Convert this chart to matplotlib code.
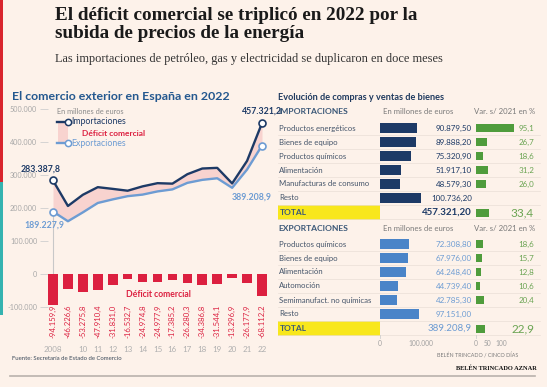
import matplotlib
matplotlib.use("Agg")
import matplotlib.pyplot as plt
from matplotlib.lines import Line2D
from matplotlib.patches import Rectangle

# ---- data ----
years = list(range(2008, 2023))
year_labels = ["2008", "", "10", "11", "12", "13", "14", "15", "16", "17", "18", "19", "20", "21", "22"]
imports = [283387.8, 206117, 240056, 263140, 257946, 252347, 265556, 275219,
           273778, 302423, 319648, 321633, 274472, 342787, 457321.2]
exports = [189227.9, 159890, 186780, 215230, 226115, 235814, 240581, 250241,
           256393, 276143, 285261, 290089, 261175, 316609, 389208.9]
deficit = [-94159.9, -46226.6, -53275.8, -47910.4, -31831.0, -16532.7, -24974.8, -24977.9,
           -17385.2, -26280.3, -34386.8, -31544.1, -13296.9, -26177.9, -68112.2]

imp_cats = ["Productos energéticos", "Bienes de equipo", "Productos químicos",
            "Alimentación", "Manufacturas de consumo", "Resto"]
imp_vals = [90879.50, 89888.20, 75320.90, 51917.10, 48579.30, 100736.20]
imp_var = [95.1, 26.7, 18.6, 31.2, 26.0, None]
imp_total, imp_total_var = 457321.20, 33.4

exp_cats = ["Productos químicos", "Bienes de equipo", "Alimentación",
            "Automoción", "Semimanufact. no químicas", "Resto"]
exp_vals = [72308.80, 67976.00, 64248.40, 44739.40, 42785.30, 97151.00]
exp_var = [18.6, 15.7, 12.8, 10.6, 20.4, None]
exp_total, exp_total_var = 389208.9, 22.9

BG = "#fdf2ea"
NAVY = "#1d3a66"
LBLUE = "#6d9cd3"
BBLUE = "#4a84c8"
RED = "#dc2040"
GREEN = "#4f9c3c"
GTXT = "#6aa452"
SANS = ["Lato", "DejaVu Sans"]

W, H = 547, 387
plt.rcParams["font.family"] = SANS


def fx(px):
    return px / W


def fy(py):
    return 1 - py / H


def ptxt(x, y, s, **kw):
    kw.setdefault("va", "center")
    fig.text(fx(x), fy(y), s, **kw)


def es_num(v, dec):
    s = f"{v:,.{dec}f}"
    return s.replace(",", "X").replace(".", ",").replace("X", ".")


fig = plt.figure(figsize=(W / 100, H / 100), dpi=100, facecolor=BG)

# left colour strips
fig.add_artist(Rectangle((0, fy(182)), fx(2.5), 182 / H, transform=fig.transFigure, color="#d9262e", lw=0))
fig.add_artist(Rectangle((0, fy(315)), fx(2.5), 133 / H, transform=fig.transFigure, color="#35b3b0", lw=0))

# headline
ptxt(55, 15, "El déficit comercial se triplicó en 2022 por la", family="Liberation Serif",
     weight="bold", fontsize=13.8, color="#1a1a1a")
ptxt(55, 33, "subida de precios de la energía", family="Liberation Serif",
     weight="bold", fontsize=13.8, color="#1a1a1a")
ptxt(55, 59, "Las importaciones de petróleo, gas y electricidad se duplicaron en doce meses",
     family="Liberation Serif", fontsize=8.9, color="#333333")

# ---- left chart ----
ptxt(12, 96, "El comercio exterior en España en 2022", weight="bold", fontsize=8.9, color="#24588f")

x0, x1 = 40, 275
y0, y1 = 100, 340
ax = fig.add_axes([fx(x0), fy(y1), (x1 - x0) / W, (y1 - y0) / H])
ax.set_facecolor("none")
pxy = 14.93
ax.set_xlim(2008 - (53 - x0) / pxy, 2022 + (x1 - 262) / pxy)
per = 33.0 / 100000
ax.set_ylim(-(y1 - 274) / per, (274 - y0) / per)
for s in ax.spines.values():
    s.set_visible(False)

ax.fill_between(years, exports, imports, color="#f8d3cf", lw=0, zorder=1)
ax.vlines(years[0], 0, exports[0], color="#c8c8c8", lw=0.8, zorder=0)
ax.plot(years, imports, color=NAVY, lw=1.7, zorder=3)
ax.plot(years, exports, color=LBLUE, lw=1.7, zorder=3)
for series, col in ((imports, NAVY), (exports, LBLUE)):
    ax.plot([years[0], years[-1]], [series[0], series[-1]], "o", ms=5, mfc="white",
            mec=col, mew=1.2, zorder=4)

ax.bar(years, deficit, width=0.65, color=RED, zorder=2)
for yr, d in zip(years, deficit):
    ax.text(yr, -194000, es_num(d, 1), rotation=90, ha="center", va="bottom",
            fontsize=5.6, color=RED)
ax.text(2015.05, -63000, "Déficit comercial", ha="center", va="center", fontsize=6.2,
        weight="bold", color=RED)

ax.text(2007.2, imports[0] + 35000, es_num(imports[0], 1), ha="center", va="center",
        fontsize=6.3, weight="bold", color=NAVY)
ax.text(2007.45, exports[0] - 40000, es_num(exports[0], 1), ha="center", va="center",
        fontsize=6.3, weight="bold", color=LBLUE)
ax.text(2022, imports[-1] + 35000, es_num(imports[-1], 1), ha="center", va="center",
        fontsize=6.3, weight="bold", color=NAVY)
ax.text(2021.33, 233000, es_num(exports[-1], 1), ha="center", va="center",
        fontsize=6.3, weight="bold", color=LBLUE)

yt = [-100000, 0, 100000, 200000, 300000, 400000, 500000]
ax.set_yticks(yt, [es_num(v, 0) for v in yt])
ax.tick_params(axis="y", direction="in", length=6, width=0.6, color="#cfcfcf",
               labelsize=5.2, labelcolor="#a8a8a8", pad=2)
ax.set_xticks(years, year_labels)
ax.tick_params(axis="x", length=0, labelsize=5.8, labelcolor="#b0b0b0", pad=4)

# legend of left chart
ptxt(57, 112, "En millones de euros", fontsize=5.3, color="#8a8a8a")
fig.add_artist(Rectangle((fx(58), fy(143)), fx(10), 20 / H, transform=fig.transFigure,
                         color="#f8d3cf", lw=0))
for yy, col, lab in ((122, NAVY, "Importaciones"), (143, LBLUE, "Exportaciones")):
    fig.add_artist(Line2D([fx(57), fx(68)], [fy(yy)] * 2, color=col, lw=1.7,
                          transform=fig.transFigure))
    fig.add_artist(Line2D([fx(68)], [fy(yy)], marker="o", ms=4.5, mfc="white", mec=col,
                          mew=1.1, transform=fig.transFigure))
    ptxt(71.5, yy, lab, fontsize=6.3, color=col)
ptxt(82, 133, "Déficit comercial", fontsize=6, weight="bold", color=RED)

ptxt(12, 358, "Fuente: Secretaría de Estado de Comercio", fontsize=4.3, color="#3c4a5a")

# ---- right table ----
LAB = "#44546a"
ptxt(278, 98, "Evolución de compras y ventas de bienes", fontsize=6.6, weight="bold", color="#1f3a5f")

bx0, bx1 = 380, 476
axb = fig.add_axes([fx(bx0), 0, (bx1 - bx0) / W, 1])
axb.set_facecolor("none")
axb.set_ylim(H, 0)
axb.set_xlim(0, (bx1 - bx0) / 40.5 * 100000)
for s in axb.spines.values():
    s.set_visible(False)
axb.set_xticks([])
axb.set_yticks([])

gx0, gx1 = 476, 540
axg = fig.add_axes([fx(gx0), 0, (gx1 - gx0) / W, 1])
axg.set_facecolor("none")
axg.set_ylim(H, 0)
axg.set_xlim(0, (gx1 - gx0) / 0.4)
for s in axg.spines.values():
    s.set_visible(False)
axg.set_xticks([])
axg.set_yticks([])


def block(top, title, cats, vals, var, total, total_var, bcol, ncol, tot_bold):
    ptxt(278, top, title, fontsize=6.1, weight="bold", color="#3b5878")
    ptxt(383, top, "En millones de euros", fontsize=5.6, color="#7a7a7a")
    ptxt(535, top, "Var. s/ 2021 en %", fontsize=5.6, color="#7a7a7a", ha="right")
    rows = [top + 16 + 14 * i for i in range(len(cats))]
    for r in rows + [rows[-1] + 14]:
        fig.add_artist(Line2D([fx(278), fx(540)], [fy(r + 7)] * 2, color="#eadfd6", lw=0.5,
                              transform=fig.transFigure))
    axb.barh(rows, vals, height=10.5, color=bcol)
    axg.barh([r for r, v in zip(rows, var) if v is not None],
             [v for v in var if v is not None], height=8, color=GREEN)
    for r, c, v, p in zip(rows, cats, vals, var):
        ptxt(279, r, c, fontsize=5.6, color=LAB)
        ptxt(472, r, es_num(v, 2), fontsize=5.8, color=ncol, ha="right")
        if p is not None:
            ptxt(534, r, es_num(p, 1), fontsize=5.8, color=GTXT, ha="right")
    rt = rows[-1] + 14.5
    fig.add_artist(Rectangle((fx(278), fy(rt + 7.5)), fx(102), 15 / H,
                             transform=fig.transFigure, color="#f8e71c", lw=0))
    ptxt(280, rt, "TOTAL", fontsize=6, weight="bold", color="#3b5878")
    ptxt(472, rt, es_num(total, 2 if tot_bold else 1), fontsize=7, color=ncol, ha="right",
         weight="bold" if tot_bold else "normal")
    axg.barh([rt], [total_var], height=8, color=GREEN)
    ptxt(534, rt, es_num(total_var, 1), fontsize=8.5, color=GTXT, ha="right")


block(112, "IMPORTACIONES", imp_cats, imp_vals, imp_var, imp_total, imp_total_var,
      NAVY, NAVY, True)
block(228, "EXPORTACIONES", exp_cats, exp_vals, exp_var, exp_total, exp_total_var,
      BBLUE, LBLUE, False)

# faint axes under the table
for xa in (380, 476):
    fig.add_artist(Line2D([fx(xa)] * 2, [fy(335), fy(338)], color="#cfcfcf", lw=0.6,
                          transform=fig.transFigure))
ptxt(380, 343, "0", fontsize=4.8, color="#a0a0a0", ha="center")
ptxt(421, 343, "100.000", fontsize=4.8, color="#a0a0a0", ha="center")
for xx, lab in ((476, "0"), (488, "50"), (501, "100")):
    ptxt(xx, 343, lab, fontsize=4.8, color="#a0a0a0", ha="center")

ptxt(518, 355, "BELÉN TRINCADO / CINCO DÍAS", fontsize=3.9, color="#7a7a7a", ha="right")
ptxt(537, 368, "BELÉN TRINCADO AZNAR", fontsize=4.6, color="#111111", ha="right",
     family="Liberation Serif", weight="bold")

fig.add_artist(Line2D([fx(10), fx(535)], [fy(376)] * 2, color="#b9b2ac", lw=1.2,
                      transform=fig.transFigure))

fig.savefig("out.png", dpi=100, facecolor=BG)
